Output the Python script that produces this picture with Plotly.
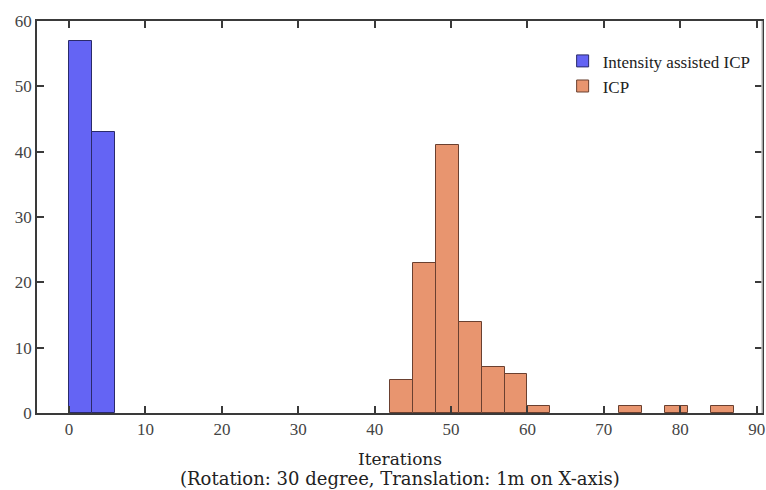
import plotly.graph_objects as go

# Histogram bins: left edges and counts (bin width 3 iterations)
bin_width = 3
assisted_left = [0, 3]
assisted_counts = [57, 43]

icp_left = [42, 45, 48, 51, 54, 57, 60, 72, 78, 84]
icp_counts = [5, 23, 41, 14, 7, 6, 1, 1, 1, 1]

x_ticks = [0, 10, 20, 30, 40, 50, 60, 70, 80, 90]
y_ticks = [0, 10, 20, 30, 40, 50, 60]

x_title = "Iterations"
x_subtitle = "(Rotation: 30 degree, Translation: 1m on X-axis)"

FONT = "Liberation Serif"
TITLE_FONT = "DejaVu Serif"
AXIS_COLOR = "#3a3a3a"

fig = go.Figure()
fig.add_trace(go.Bar(
    x=assisted_left, y=assisted_counts, width=bin_width, offset=0,
    name="Intensity assisted ICP",
    marker=dict(color="#6464F4", line=dict(color="#2a2a6a", width=1)),
))
fig.add_trace(go.Bar(
    x=icp_left, y=icp_counts, width=bin_width, offset=0,
    name="ICP",
    marker=dict(color="#E8956F", line=dict(color="#6a4030", width=1)),
))

axis_common = dict(
    showline=True, linecolor=AXIS_COLOR, linewidth=1.5, mirror="ticks",
    ticks="inside", ticklen=7, tickwidth=1.5, tickcolor=AXIS_COLOR,
    showgrid=False, zeroline=False,
    tickfont=dict(family=FONT, size=17, color="#444"),
)

fig.update_layout(
    width=766, height=490,
    margin=dict(l=37, r=1, t=21, b=77),
    plot_bgcolor="white", paper_bgcolor="white",
    bargap=0,
    showlegend=True,
    legend=dict(
        x=0.725, y=0.943, xanchor="left", yanchor="top",
        bgcolor="rgba(0,0,0,0)", borderwidth=0,
        font=dict(family=FONT, size=17, color="#222"),
    ),
    xaxis=dict(range=[-4.2, 90.7], tickvals=x_ticks, ticklabeloverflow="allow",
               **axis_common),
    yaxis=dict(range=[0, 60], tickvals=y_ticks, **axis_common),
)

# Light frame edge on the right-hand side, drawn over the mirrored axis line
fig.add_shape(type="line", xref="paper", yref="paper", x0=1, x1=1, y0=0, y1=1,
              line=dict(color="#c8c8c8", width=1.5), layer="above")

# Two-line axis caption under the x axis
fig.add_annotation(text=x_title, xref="paper", yref="paper", x=0.5, y=-0.118,
                   xanchor="center", yanchor="middle", showarrow=False,
                   font=dict(family=TITLE_FONT, size=17, color="#222"))
fig.add_annotation(text=x_subtitle, xref="paper", yref="paper", x=0.5, y=-0.166,
                   xanchor="center", yanchor="middle", showarrow=False,
                   font=dict(family=TITLE_FONT, size=18, color="#222"))

fig.write_html("out.html")
